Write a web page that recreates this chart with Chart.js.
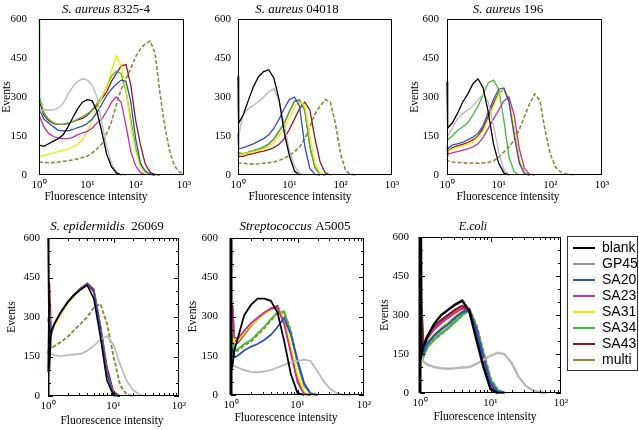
<!DOCTYPE html>
<html>
<head>
<meta charset="utf-8">
<script src="https://cdn.jsdelivr.net/npm/chart.js@4.4.1/dist/chart.umd.min.js"></script>
<style>
  body { margin: 0; background: #fff; }
  #wrap { position: relative; width: 639px; height: 430px; overflow: hidden; background: #fff; }
  #wrap canvas { position: absolute; }
</style>
</head>
<body>
<div id="wrap"></div>
<script>
// series shared by every panel
const seriesNames = ['blank', 'GP45', 'SA20', 'SA23', 'SA31', 'SA34', 'SA43', 'multi'];
const seriesColors = ['#000000', '#b8b8b8', '#2e4fbe', '#c4309f', '#f2ea00', '#44ba3a', '#8e1b1b', '#8b8a3e'];

// fluorescence channels (x) for the top and bottom rows
const xTop = [1, 1.03, 1.26, 1.58, 2, 2.51, 3.16, 3.98, 5.01, 6.31, 7.94, 10, 12.6, 15.8, 20, 25.1, 31.6, 39.8, 50.1, 63.1, 79.4, 100, 126, 158, 200, 251, 316, 398, 501, 631, 794, 1000];
const xBottom = [1, 1.05, 1.12, 1.26, 1.58, 2, 2.51, 3.16, 3.98, 5.01, 6.31, 7.94, 10, 12.6, 15.8, 20, 25.1, 31.6, 39.8, 50.1, 63.1, 79.4, 100];

const xTicksTop = [1, 10, 100, 1000];
const xTickLabelsTop = ['10⁰', '10¹', '10²', '10³'];
const xTicksBottom = [1, 10, 100];
const xTickLabelsBottom = ['10⁰', '10¹', '10²'];
const yTicks = [0, 150, 300, 450, 600];

// events per channel, rows in seriesNames order
const aureus8325 = [
  [115, 115, 110, 120, 130, 140, 155, 185, 220, 255, 280, 290, 285, 245, 165, 80, 32, 8, 0],
  [245, 245, 250, 250, 250, 258, 275, 310, 340, 360, 370, 365, 345, 300, 200, 110, 45, 13, 2, 0],
  [255, 250, 215, 200, 185, 172, 170, 170, 175, 182, 188, 198, 215, 240, 272, 305, 330, 350, 365, 360, 280, 140, 45, 15, 3, 0],
  [230, 225, 185, 160, 148, 142, 140, 140, 145, 155, 162, 168, 180, 200, 215, 245, 280, 300, 280, 190, 90, 35, 10, 0],
  [70, 70, 75, 80, 85, 90, 95, 100, 108, 118, 135, 170, 210, 255, 300, 340, 400, 460, 420, 330, 190, 90, 32, 8, 0],
  [900, 300, 240, 215, 200, 195, 195, 200, 205, 215, 225, 235, 250, 275, 300, 340, 380, 400, 390, 320, 215, 105, 38, 10, 2, 0],
  [285, 280, 230, 210, 198, 195, 195, 198, 205, 212, 218, 230, 250, 265, 295, 320, 360, 390, 420, 425, 345, 210, 115, 42, 10, 2, 0],
  [52, 50, 48, 47, 48, 50, 52, 55, 58, 62, 67, 72, 85, 100, 120, 160, 205, 270, 330, 370, 410, 455, 485, 505, 515, 470, 320, 190, 95, 35, 12, 4]
];
const aureus04018 = [
  [380, 200, 230, 285, 340, 378, 398, 405, 372, 290, 165, 75, 15, 0],
  [300, 150, 235, 255, 268, 282, 300, 320, 332, 285, 195, 96, 35, 7, 0],
  [160, 100, 105, 112, 120, 130, 140, 155, 180, 215, 255, 290, 300, 265, 110, 25, 2, 0],
  [88, 83, 80, 86, 93, 98, 106, 118, 138, 168, 198, 243, 282, 287, 248, 108, 28, 3, 0],
  [80, 78, 80, 85, 90, 95, 100, 110, 125, 150, 180, 220, 260, 280, 270, 150, 45, 8, 0],
  [90, 85, 82, 88, 95, 100, 108, 120, 140, 170, 200, 245, 285, 290, 250, 110, 30, 3, 0],
  [75, 72, 72, 78, 82, 88, 92, 98, 105, 118, 140, 175, 215, 255, 280, 250, 140, 50, 8, 0],
  [48, 45, 45, 43, 42, 43, 45, 47, 50, 56, 65, 75, 90, 108, 140, 185, 235, 265, 290, 280, 195, 80, 15, 3, 0]
];
const aureus196 = [
  [360, 180, 200, 235, 280, 310, 350, 370, 335, 240, 120, 45, 8, 0],
  [140, 150, 180, 215, 235, 250, 265, 290, 310, 280, 190, 90, 20, 0],
  [110, 100, 115, 120, 125, 135, 145, 160, 190, 240, 290, 330, 335, 280, 150, 45, 5, 0],
  [85, 80, 85, 90, 95, 100, 108, 120, 145, 180, 215, 250, 285, 300, 230, 100, 25, 3, 0],
  [95, 90, 100, 105, 110, 118, 128, 145, 170, 215, 265, 310, 330, 300, 180, 60, 10, 0],
  [130, 135, 150, 170, 185, 200, 230, 265, 310, 355, 365, 330, 210, 70, 12, 0],
  [100, 90, 105, 112, 118, 125, 135, 150, 180, 225, 275, 315, 330, 290, 170, 55, 8, 0],
  [62, 55, 50, 48, 47, 45, 46, 45, 46, 48, 55, 68, 88, 108, 135, 175, 225, 275, 312, 285, 170, 80, 30, 12, 4, 2, 0]
];
const epidermidis26069 = [
  [650, 100, 250, 275, 320, 358, 385, 405, 420, 370, 225, 60, 2, 0],
  [190, 175, 160, 155, 152, 155, 158, 160, 172, 190, 215, 228, 195, 120, 58, 22, 5, 0],
  [280, 300, 235, 275, 318, 355, 382, 405, 425, 395, 255, 85, 5, 0],
  [290, 305, 238, 278, 320, 356, 384, 408, 425, 398, 258, 88, 6, 0],
  [300, 310, 230, 268, 310, 350, 380, 402, 422, 395, 255, 88, 6, 0],
  [290, 300, 232, 272, 315, 353, 382, 405, 424, 396, 256, 87, 6, 0],
  [90, 430, 235, 275, 318, 355, 385, 410, 428, 405, 270, 110, 15, 0],
  [160, 200, 180, 190, 205, 225, 250, 275, 300, 335, 350, 275, 150, 42, 6, 0]
];
const streptoA5005 = [
  [95, 110, 170, 215, 305, 345, 368, 368, 360, 315, 205, 80, 8, 0],
  [120, 115, 110, 105, 95, 88, 87, 90, 95, 105, 115, 125, 130, 135, 130, 90, 50, 22, 6, 1, 0],
  [180, 175, 145, 150, 170, 185, 195, 210, 230, 260, 295, 230, 135, 45, 5, 0],
  [300, 340, 220, 215, 245, 275, 295, 315, 330, 335, 270, 160, 50, 3, 0],
  [320, 330, 200, 205, 235, 268, 290, 310, 325, 335, 290, 185, 75, 10, 0],
  [280, 270, 170, 175, 195, 210, 235, 260, 290, 315, 320, 240, 120, 35, 5, 0],
  [120, 345, 210, 200, 230, 265, 290, 310, 330, 340, 280, 170, 60, 5, 0],
  [250, 240, 165, 170, 190, 205, 230, 255, 285, 315, 315, 245, 125, 40, 6, 0]
];
const ecoli = [
  [1500, 150, 180, 215, 265, 300, 320, 340, 355, 315, 205, 100, 15, 0],
  [1200, 140, 120, 110, 100, 95, 93, 95, 98, 100, 112, 128, 143, 155, 150, 115, 62, 28, 10, 3, 0],
  [200, 190, 155, 190, 220, 245, 265, 290, 310, 320, 245, 135, 40, 6, 0],
  [200, 220, 170, 210, 245, 270, 290, 310, 325, 315, 230, 120, 30, 3, 0],
  [220, 200, 160, 195, 225, 250, 270, 295, 315, 320, 240, 130, 35, 5, 0],
  [180, 170, 140, 175, 205, 230, 250, 275, 300, 320, 255, 150, 50, 10, 0],
  [90, 330, 175, 215, 255, 280, 300, 320, 335, 315, 225, 115, 25, 2, 0],
  [170, 165, 145, 178, 205, 228, 250, 275, 300, 322, 260, 155, 55, 12, 0]
];

const titles = [
  ['S. aureus', ' 8325-4'], ['S. aureus', ' 04018'], ['S. aureus', ' 196'],
  ['S. epidermidis', '  26069'], ['Streptococcus', ' A5005'], ['E.coli', '']
];

// layout: plot area [left, top, right, bottom] in page pixels
const panels = [
  { rows: aureus8325, xs: xTop, ticks: xTicksTop, labels: xTickLabelsTop, area: [39, 19, 184, 175], top0: 0, yW: 39, xH: 30, tickPad: 12, events: true, lw: 1.3, tx: 106, ty: 10, ax: 96, ay: 197 },
  { rows: aureus04018, xs: xTop, ticks: xTicksTop, labels: xTickLabelsTop, area: [238, 19, 392, 175], top0: 0, yW: 30, xH: 30, tickPad: 7, events: false, lw: 1.3, tx: 297, ty: 10, ax: 300, ay: 197, under: 3 },
  { rows: aureus196, xs: xTop, ticks: xTicksTop, labels: xTickLabelsTop, area: [447, 19, 602, 175], top0: 0, yW: 39, xH: 30, tickPad: 8, events: true, lw: 1.3, tx: 508, ty: 10, ax: 508, ay: 197 },
  { rows: epidermidis26069, xs: xBottom, ticks: xTicksBottom, labels: xTickLabelsBottom, area: [48, 238, 179, 396], top0: 205, yW: 43, xH: 34, tickPad: 8, events: true, lw: 1.6, tx: 107, ty: 227, ax: 112, ay: 421, leftW: 1.5, minor: true },
  { rows: streptoA5005, xs: xBottom, ticks: xTicksBottom, labels: xTickLabelsBottom, area: [231, 238, 364, 395], top0: 205, yW: 45, xH: 35, tickPad: 13, events: true, lw: 1.8, tx: 295, ty: 227, ax: 286, ay: 418, leftW: 3, minor: true },
  { rows: ecoli, xs: xBottom, ticks: xTicksBottom, labels: xTickLabelsBottom, area: [420, 237, 561, 393], top0: 205, yW: 42, xH: 37, tickPad: 11, events: true, lw: 2.4, tx: 473, ty: 227, ax: 485, ay: 417, leftW: 3, minor: true, titleSize: 12 }
];

const wrap = document.getElementById('wrap');
const serif = '"Liberation Serif", "Times New Roman", serif';

function addCanvas(left, top, w, h) {
  const cv = document.createElement('canvas');
  cv.width = w; cv.height = h;
  cv.style.left = left + 'px'; cv.style.top = top + 'px';
  cv.style.width = w + 'px'; cv.style.height = h + 'px';
  wrap.appendChild(cv);
  return cv;
}

function framePlugin(p) {
  return {
    id: 'frame',
    afterDatasetsDraw(chart) {
      const { ctx, chartArea: a } = chart;
      ctx.save();
      ctx.strokeStyle = '#000';
      ctx.lineWidth = 1;
      ctx.strokeRect(Math.round(a.left) + 0.5, Math.round(a.top) + 0.5, Math.round(a.right - a.left) - 1, Math.round(a.bottom - a.top) - 1);
      if (p.leftW) {
        ctx.fillStyle = '#000';
        ctx.fillRect(Math.round(a.left) - p.leftW + 1.5, a.top, p.leftW, a.bottom - a.top);
      }
      if (p.minor) {
        const xs = chart.scales.x, ys = chart.scales.y;
        ctx.beginPath();
        for (let d = 1; d < p.ticks[p.ticks.length - 1]; d *= 10) {
          for (let k = 1; k <= 9; k++) {
            const px = Math.round(xs.getPixelForValue(k * d)) + 0.5;
            const len = k === 1 ? 5 : 3;
            ctx.moveTo(px, a.bottom); ctx.lineTo(px, a.bottom - len);
            ctx.moveTo(px, a.top); ctx.lineTo(px, a.top + len);
          }
        }
        for (let v = 0; v <= 600; v += 50) {
          const py = Math.round(ys.getPixelForValue(v)) + 0.5;
          const len = v % 150 === 0 ? 5 : 3;
          ctx.moveTo(a.left, py); ctx.lineTo(a.left + len, py);
          ctx.moveTo(a.right, py); ctx.lineTo(a.right - len, py);
        }
        ctx.stroke();
      }
      ctx.restore();
    }
  };
}

function textPlugin(p, title, ox, oy) {
  return {
    id: 'panelText',
    afterDraw(chart) {
      const ctx = chart.ctx;
      const size = p.titleSize || 13;
      ctx.save();
      ctx.fillStyle = '#000';
      ctx.textBaseline = 'middle';
      ctx.textAlign = 'left';
      const fItalic = 'italic ' + size + 'px ' + serif;
      const fNormal = size + 'px ' + serif;
      ctx.font = fItalic;
      const w1 = ctx.measureText(title[0]).width;
      ctx.font = fNormal;
      const w2 = ctx.measureText(title[1]).width;
      const x0 = p.tx - ox - (w1 + w2) / 2;
      ctx.font = fItalic;
      ctx.fillText(title[0], x0, p.ty - oy);
      ctx.font = fNormal;
      ctx.fillText(title[1], x0 + w1, p.ty - oy);
      ctx.font = '11.5px ' + serif;
      ctx.textAlign = 'center';
      ctx.fillText('Fluorescence intensity', p.ax - ox, p.ay - oy);
      ctx.restore();
    }
  };
}

panels.forEach((p, n) => {
  const [L, T, R, B] = p.area;
  const padR = 12;
  const padT = T - p.top0;
  const left = L - p.yW;
  const w = p.yW + (R - L) + padR;
  const h = padT + (B - T) + p.xH;
  const cv = addCanvas(left, p.top0, w, h);

  const datasets = p.rows.map((ys, i) => ({
    label: seriesNames[i],
    data: ys.map((y, j) => ({ x: p.xs[j], y: y })),
    borderColor: seriesColors[i],
    borderWidth: i === 7 ? p.lw + 0.3 : p.lw,
    borderDash: i === 7 ? [4, 2] : [],
    pointRadius: 0,
    tension: 0,
    fill: false,
    clip: { left: 1, top: 0, right: 1, bottom: 1 },
    order: p.under === i ? 1 : 0
  }));

  new Chart(cv.getContext('2d'), {
    type: 'line',
    data: { datasets },
    options: {
      responsive: false,
      animation: false,
      devicePixelRatio: 1,
      layout: { padding: { top: padT, right: padR, bottom: 0, left: 0 } },
      plugins: { legend: { display: false }, tooltip: { enabled: false } },
      scales: {
        x: {
          type: 'logarithmic',
          min: 1,
          max: p.ticks[p.ticks.length - 1],
          grid: { display: false, drawTicks: false },
          border: { display: false },
          ticks: {
            autoSkip: false, maxRotation: 0, padding: 4, color: '#000',
            font: { family: serif, size: 11 },
            callback: (v, i) => p.labels[i]
          },
          afterBuildTicks: s => { s.ticks = p.ticks.map(v => ({ value: v })); },
          afterFit: s => { s.height = p.xH; s.paddingLeft = 0; s.paddingRight = 0; }
        },
        y: {
          min: 0, max: 600,
          grid: { display: false, drawTicks: false },
          border: { display: false },
          ticks: { padding: p.tickPad, color: '#000', font: { family: serif, size: 11 } },
          afterBuildTicks: s => { s.ticks = yTicks.map(v => ({ value: v })); },
          title: { display: p.events, text: 'Events', padding: 0, color: '#000', font: { family: serif, size: 11.5 } },
          afterFit: s => { s.width = p.yW; s.paddingTop = 0; s.paddingBottom = 0; }
        }
      }
    },
    plugins: [framePlugin(p), textPlugin(p, titles[n], left, p.top0)]
  });
});

// legend box beside the E.coli panel
const legendBox = {
  id: 'legendBox',
  afterDraw(chart) {
    const ctx = chart.ctx;
    ctx.save();
    ctx.strokeStyle = '#333';
    ctx.lineWidth = 1;
    ctx.strokeRect(1.5, 1.5, 70, 134);
    ctx.restore();
  }
};
const lc = addCanvas(566, 235, 180, 170);
new Chart(lc.getContext('2d'), {
  type: 'line',
  data: {
    datasets: seriesNames.map((name, i) => ({
      label: name,
      data: [],
      borderColor: seriesColors[i] === '#b8b8b8' ? '#999999' : seriesColors[i],
      borderWidth: 2,
      borderDash: i === 7 ? [4, 2] : []
    }))
  },
  options: {
    responsive: false,
    animation: false,
    devicePixelRatio: 1,
    layout: { padding: { left: 5, top: 4 } },
    scales: { x: { display: false }, y: { display: false } },
    plugins: {
      tooltip: { enabled: false },
      legend: {
        position: 'left',
        align: 'start',
        labels: {
          usePointStyle: true, pointStyle: 'line', pointStyleWidth: 22,
          padding: 2, color: '#000',
          font: { family: '"Liberation Sans", Arial, sans-serif', size: 14 }
        }
      }
    }
  },
  plugins: [legendBox]
});
</script>
</body>
</html>
